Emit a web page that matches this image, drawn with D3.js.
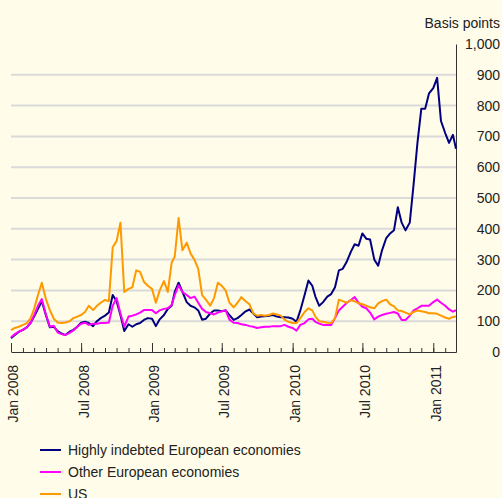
<!DOCTYPE html>
<html>
<head>
<meta charset="utf-8">
<script src="https://cdn.jsdelivr.net/npm/d3@7"></script>
<style>
  html, body { margin: 0; padding: 0; background: #FFFCE9; }
  svg { display: block; font-family: "Liberation Sans", Arial, sans-serif; }
</style>
</head>
<body>
<svg id="chart" width="502" height="498"></svg>
<script>
// sample dates: 1st, 11th and 21st of every month, Jan 2008 - Mar 2011
var months = [];
for (var yy = 2008; yy <= 2011; yy++) {
    for (var mm = 1; mm <= 12; mm++) {
        if (yy == 2011 && mm > 3) break;
        months.push(yy + "-" + (mm < 10 ? "0" + mm : mm));
    }
}
var dates = [];
months.forEach(function(m) {
    if (m == "2011-03") { dates.push(m + "-01"); return; }
    dates.push(m + "-01", m + "-11", m + "-21");
});

// spreads, basis points
var highlyIndebted = [
    45, 55, 65, 72, 80, 95, 115, 140, 165, 118, 80, 82,
    68, 60, 55, 66, 72, 82, 95, 98, 94, 84, 100, 110,
    118, 128, 185, 165, 120, 68, 90, 82, 90, 94, 104, 110,
    108, 84, 106, 120, 140, 150, 195, 225, 195, 162, 150, 145,
    135, 105, 108, 125, 135, 135, 132, 135, 120, 104, 110, 120,
    132, 138, 125, 113, 115, 116, 118, 120, 115, 113, 113, 112,
    108, 98, 135, 185, 232, 215, 180, 150, 162, 180, 188, 210,
    265, 270, 292, 325, 350, 345, 385, 368, 365, 300, 280, 330,
    370, 385, 395, 470, 420, 395, 420, 545, 680, 790, 790, 840,
    857, 890, 750, 711, 679, 705, 660
];
var otherEuropean = [
    48, 58, 66, 72, 80, 95, 120, 150, 172, 120, 82, 85,
    64, 58, 55, 62, 70, 82, 92, 95, 88, 92, 92, 94,
    94, 96, 150, 175, 126, 82, 115, 118, 122, 128, 136, 136,
    136, 126, 135, 140, 142, 153, 185, 217, 195, 185, 175, 180,
    160, 140, 130, 126, 122, 128, 132, 136, 105, 95, 94, 90,
    88, 84, 82, 78, 80, 82, 82, 84, 84, 84, 88, 82,
    78, 69, 88, 94, 106, 108, 98, 92, 88, 88, 88, 110,
    135, 147, 159, 169, 178, 160, 147, 142, 128, 106, 115, 120,
    124, 127, 130, 125, 104, 104, 118, 135, 142, 150, 150, 150,
    162, 170, 160, 150, 138, 131, 136
];
var us = [
    71, 78, 82, 88, 94, 110, 140, 185, 225, 170, 136, 108,
    96, 94, 96, 100, 110, 115, 120, 130, 150, 136, 150, 160,
    169, 165, 340, 360, 420, 195, 205, 210, 265, 260, 228, 215,
    205, 160, 200, 230, 195, 290, 310, 435, 330, 355, 320, 300,
    270, 185, 170, 150, 175, 225, 215, 200, 160, 145, 160, 178,
    165, 155, 125, 118, 120, 118, 120, 125, 122, 118, 105, 98,
    94, 94, 110, 130, 142, 135, 115, 100, 98, 95, 94, 110,
    170, 165, 160, 168, 165, 158, 155, 150, 145, 142, 158, 165,
    170, 155, 148, 135, 133, 128, 122, 130, 135, 132, 130, 126,
    126, 124, 118, 112, 108, 114, 115
];

var seriesNames = ["Highly indebted European economies", "Other European economies", "US"];
var seriesColors = ["#000080", "#FF00FF", "#FF9900"];
var seriesValues = [highlyIndebted, otherEuropean, us];

var yTicks = [0, 100, 200, 300, 400, 500, 600, 700, 800, 900, 1000];
var xLabelDates = ["2008-01-01", "2008-07-01", "2009-01-01", "2009-07-01", "2010-01-01", "2010-07-01", "2011-01-01"];

var parse = d3.timeParse("%Y-%m-%d");
var svg = d3.select("#chart");

var x = d3.scaleTime()
    .domain([parse("2008-01-01"), parse("2011-03-01")])
    .range([11, 456]);
var y = d3.scaleLinear()
    .domain([0, 1000])
    .range([352, 44]);

// grid lines
svg.append("g")
    .selectAll("line")
    .data(yTicks.filter(function(d) { return d > 0 && d < 1000; }))
    .enter()
    .append("line")
    .attr("x1", 11)
    .attr("x2", 456)
    .attr("y1", function(d) { return y(d); })
    .attr("y2", function(d) { return y(d); })
    .attr("stroke", "#DADADA")
    .attr("stroke-width", 2);

// right axis
var yAxis = svg.append("g")
    .attr("transform", "translate(456,0)")
    .call(d3.axisRight(y).tickValues(yTicks).tickSize(0).tickFormat(d3.format(",")));
yAxis.select(".domain").attr("stroke", "#333");
yAxis.selectAll("text")
    .attr("x", 44)
    .attr("text-anchor", "end")
    .attr("fill", "#222")
    .style("font-size", "14px");

svg.append("text")
    .attr("x", 500)
    .attr("y", 28)
    .attr("text-anchor", "end")
    .attr("fill", "#222")
    .style("font-size", "14px")
    .text("Basis points");

// x axis: monthly minor ticks, half-year major ticks
var minorTicks = d3.timeMonth.range(parse("2008-01-01"), parse("2011-03-02"));
var xMinor = svg.append("g")
    .attr("transform", "translate(0,352)")
    .call(d3.axisBottom(x).tickValues(minorTicks).tickSizeInner(-4).tickSizeOuter(0).tickFormat(""));
xMinor.select(".domain").attr("stroke", "#333");
xMinor.selectAll(".tick line").attr("stroke", "#333");

var xMajor = svg.append("g")
    .attr("transform", "translate(0,352)")
    .call(d3.axisBottom(x).tickValues(xLabelDates.map(parse)).tickSizeInner(-9).tickSizeOuter(0).tickFormat(d3.timeFormat("%b %Y")));
xMajor.select(".domain").remove();
xMajor.selectAll(".tick line").attr("stroke", "#333");
xMajor.selectAll("text")
    .attr("transform", "rotate(-90)")
    .attr("x", -13)
    .attr("y", 2)
    .attr("dy", "0.35em")
    .attr("text-anchor", "end")
    .attr("fill", "#222")
    .style("font-size", "14px");

// lines
var line = d3.line()
    .x(function(d, i) { return x(parse(dates[i])); })
    .y(function(d) { return y(d); });

svg.append("g")
    .selectAll("path")
    .data(seriesValues)
    .enter()
    .append("path")
    .attr("d", function(d) { return line(d); })
    .attr("fill", "none")
    .attr("stroke", function(d, i) { return seriesColors[i]; })
    .attr("stroke-width", 2)
    .attr("stroke-linejoin", "round");

// legend
var legend = svg.append("g")
    .selectAll("g")
    .data(seriesNames)
    .enter()
    .append("g")
    .attr("transform", function(d, i) { return "translate(40," + (450 + i * 22) + ")"; });
legend.append("line")
    .attr("x1", 0)
    .attr("x2", 21)
    .attr("stroke", function(d, i) { return seriesColors[i]; })
    .attr("stroke-width", 2);
legend.append("text")
    .attr("x", 28)
    .attr("dy", "0.35em")
    .attr("fill", "#222")
    .style("font-size", "14px")
    .text(function(d) { return d; });
</script>
</body>
</html>
